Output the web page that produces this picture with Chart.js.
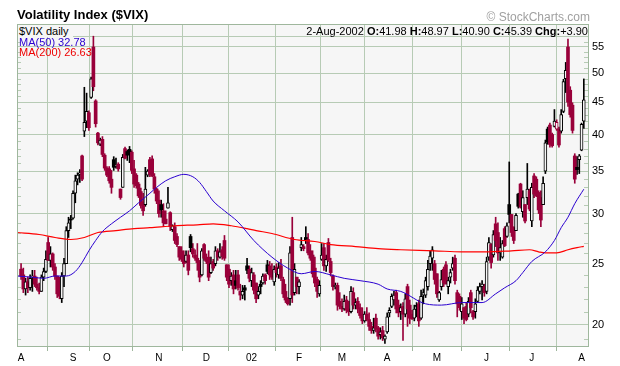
<!DOCTYPE html>
<html><head><meta charset="utf-8">
<script src="https://cdn.jsdelivr.net/npm/chart.js@4"></script>
<style>
html,body{margin:0;padding:0;background:#fff;}
#wrap{position:relative;width:620px;height:366px;overflow:hidden;font-family:"Liberation Sans",Arial,sans-serif;}
canvas{position:absolute;left:0;top:0;}
.t{position:absolute;white-space:nowrap;line-height:1;}
</style></head>
<body><div id="wrap">
<canvas id="c" width="620" height="366"></canvas>
<div class="t" style="left:17px;top:8px;font-size:13px;font-weight:bold;color:#000;">Volatility Index ($VIX)</div>
<div class="t" style="right:30px;top:11px;font-size:12px;color:#a0a0a0;">© StockCharts.com</div>
<div class="t" style="left:18px;top:25px;width:55px;height:12px;padding-left:1px;padding-top:1px;box-sizing:border-box;background:#f6f6f6;font-size:11px;color:#000;">$VIX daily</div>
<div class="t" style="left:19px;top:37px;font-size:11px;color:#2a00d0;">MA(50) 32.78</div>
<div class="t" style="left:19px;top:47px;font-size:11px;color:#ee0000;">MA(200) 26.63</div>
<div class="t" style="right:32px;top:26px;font-size:11px;color:#000;">2-Aug-2002 <b>O:</b>41.98 <b>H:</b>48.97 <b>L:</b>40.90 <b>C:</b>45.39 <b>Chg:</b>+3.90</div>
</div>
<script>
// ---- data (trading days Aug 1 2001 .. Aug 2 2002, index 0..249) ----
const PREV_CLOSE = 24.6;
const OPEN = [
24.5,24.0,22.8,23.4,22.9,23.8,23.9,23.2,22.9,22.6,23.8,24.3,27.0,25.3,25.9,24.7,23.9,22.4,22.0,23.9,25.0,28.2,29.4,
29.5,32.3,34.0,34.6,37.0,40.5,42.0,43.3,45.8,55.0,45.2,40.2,38.6,39.3,37.1,
35.4,35.3,34.0,36.5,35.6,35.9,32.8,33.0,38.0,37.6,37.9,37.5,35.3,34.5,33.4,32.5,31.3,31.0,34.5,36.5,36.6,34.3,32.8,
31.5,31.0,30.3,29.4,30.6,30.1,28.3,28.6,27.6,26.6,26.2,25.8,25.2,25.8,27.6,26.4,25.8,25.5,25.1,24.0,26.8,
25.5,25.6,24.2,25.2,25.0,26.2,25.6,26.3,27.2,24.9,24.5,23.5,24.0,23.5,24.0,22.6,22.3,22.9,24.8,24.5,
23.5,24.0,23.3,22.3,23.2,23.3,24.0,24.9,24.8,24.4,23.4,24.7,24.0,24.8,23.6,22.6,22.0,22.0,27.5,22.5,23.8,
23.0,26.5,26.6,27.5,27.3,26.2,25.8,24.6,23.6,22.4,25.4,26.5,24.8,27.0,25.2,23.9,23.0,23.1,21.8,
21.4,21.2,21.9,21.2,21.0,22.5,21.5,21.8,21.3,20.8,20.3,20.8,20.4,19.9,19.6,20.5,19.8,19.3,19.6,19.0,
19.5,20.9,21.4,21.9,22.5,21.5,21.0,21.4,20.8,23.0,21.5,20.8,20.5,21.4,21.6,20.5,22.3,22.3,23.0,25.0,25.5,25.0,
24.1,21.9,23.0,24.5,24.9,23.0,23.8,24.6,25.5,22.5,22.2,21.0,21.3,21.4,20.8,22.5,21.0,21.0,21.8,22.6,23.0,23.0,
22.6,25.6,26.8,25.8,28.9,28.0,26.0,25.6,28.4,27.6,31.0,29.9,28.5,28.2,32.2,33.4,30.2,31.0,31.8,32.6,
29.2,34.4,34.0,32.4,31.8,31.0,35.0,40.8,41.4,40.0,41.2,40.8,40.8,40.5,43.5,49.0,55.0,47.0,44.5,37.0,35.5,36.5,
37.8,41.98
];
const HIGH = [
25.0,24.6,23.7,23.8,24.0,24.4,24.4,23.8,23.3,24.0,24.6,26.2,27.5,26.6,26.0,25.0,23.9,23.8,24.2,25.5,28.6,29.6,29.8,
32.6,34.5,34.8,35.2,37.1,47.5,46.5,43.6,49.3,57.2,45.4,40.3,39.5,39.7,37.3,
35.6,35.6,35.1,36.9,36.7,36.1,32.8,37.2,38.2,37.8,38.3,37.7,36.4,34.7,33.6,32.9,32.3,35.5,35.2,36.8,37.0,34.7,32.9,
32.6,31.5,31.1,30.3,33.0,30.2,28.8,29.0,27.9,26.6,26.6,26.2,26.2,26.2,27.8,26.9,26.3,26.9,25.3,26.4,26.9,
25.9,26.2,25.6,25.4,26.6,26.4,26.9,26.6,27.7,24.9,24.9,24.2,24.4,24.4,24.4,23.2,23.1,23.1,25.5,24.8,
24.6,24.2,23.3,23.0,23.5,24.1,24.1,25.3,25.2,25.0,24.8,25.0,25.1,25.4,23.8,23.2,22.1,26.6,29.6,25.0,23.8,
23.6,27.5,26.8,28.6,27.9,26.8,26.2,25.6,23.8,23.5,26.9,26.9,25.8,27.4,25.5,24.0,23.3,23.3,22.5,
22.0,22.3,22.2,21.8,23.0,22.9,22.0,22.1,21.6,21.3,21.0,21.3,20.9,20.2,20.5,20.8,19.9,19.8,19.9,19.3,
20.9,21.3,22.4,22.6,22.7,21.9,21.6,21.7,22.4,23.2,21.9,21.1,21.5,21.7,21.9,22.7,22.8,23.8,25.3,26.2,26.6,25.3,
24.1,22.6,24.4,24.7,25.2,23.8,24.5,25.6,25.8,22.7,22.4,22.1,21.3,21.7,22.1,22.7,21.1,22.0,23.0,23.3,23.5,23.2,
25.6,27.5,26.9,28.2,29.6,29.0,27.5,27.2,28.6,29.0,36.2,29.9,28.6,30.0,32.3,33.5,32.6,31.0,36.0,32.8,
33.5,34.7,34.3,32.6,32.6,34.3,39.2,41.1,41.7,40.2,43.8,42.2,41.1,43.8,48.9,52.0,56.6,47.6,44.9,37.3,36.9,37.2,
41.7,48.97
];
const LOW = [
23.6,22.5,22.3,22.5,22.7,22.6,23.0,22.7,22.4,22.6,23.5,24.2,25.3,24.7,24.4,23.6,22.1,22.0,21.7,23.0,25.0,27.5,28.4,
29.4,31.2,33.3,33.6,33.8,39.7,41.0,40.6,45.6,46.9,41.1,38.5,38.4,36.9,35.1,
34.3,33.5,32.3,35.1,35.4,35.0,31.6,33.0,36.6,36.4,36.1,34.7,33.0,32.9,31.8,30.6,29.8,30.8,34.3,34.3,34.3,32.3,31.1,
29.6,29.6,28.6,28.9,30.6,28.2,28.1,26.9,26.6,25.3,25.2,24.7,25.1,24.0,26.1,25.6,25.3,24.4,23.4,23.9,25.3,
25.0,23.5,24.1,24.4,24.8,25.3,25.5,25.4,25.3,23.5,22.9,23.1,22.4,22.8,22.7,21.9,22.0,21.9,24.1,23.4,
23.0,22.4,21.7,22.0,22.4,23.2,23.2,24.1,23.6,23.6,23.1,23.8,23.7,23.5,22.1,21.7,21.5,21.5,21.7,22.3,22.4,
22.4,26.2,26.2,26.9,25.8,25.3,23.8,23.0,22.1,22.2,25.3,24.4,24.3,25.2,23.9,22.7,22.8,21.1,21.2,
21.0,21.1,20.9,20.7,20.9,21.2,21.2,20.9,20.5,20.1,20.2,20.3,19.6,19.4,19.4,19.5,19.0,19.0,18.9,18.7,
19.4,20.6,21.3,21.5,20.9,20.6,20.4,18.9,20.6,19.9,20.1,20.4,20.3,20.6,19.9,20.4,21.6,22.1,22.7,24.4,24.4,23.2,
22.1,21.8,22.7,23.0,23.3,22.4,23.3,24.4,23.2,20.6,21.1,20.4,20.1,20.3,20.6,20.9,20.4,20.5,21.7,22.4,21.9,22.2,
22.4,25.3,24.6,25.6,26.6,25.3,25.3,25.5,26.6,27.5,29.0,27.6,26.9,28.2,30.6,30.6,29.6,29.0,31.0,30.3,
28.6,31.8,31.9,30.0,28.6,31.0,34.7,38.6,38.2,38.2,41.1,40.6,38.2,40.2,43.3,46.6,44.3,42.6,40.2,33.5,34.6,34.7,
37.7,40.90
];
const CLOSE = [
23.9,22.8,23.4,22.9,23.7,23.9,23.2,22.9,22.6,23.8,24.3,25.4,25.3,25.9,24.7,23.9,22.4,22.2,23.9,25.0,28.2,29.0,29.3,
32.3,33.8,34.5,34.8,34.0,41.8,43.5,41.0,49.0,47.6,41.6,38.8,39.2,37.2,35.4,
34.5,33.8,33.0,35.5,35.8,35.3,31.8,36.8,36.7,37.1,37.5,35.1,33.4,33.2,32.0,30.9,30.3,32.8,35.0,34.6,34.4,32.8,31.4,
30.0,30.4,29.0,28.9,31.2,28.6,28.7,27.2,26.8,25.6,25.4,25.0,25.8,24.4,26.5,25.9,25.5,25.1,23.8,26.2,25.5,
25.2,23.8,25.0,24.6,26.2,25.6,26.1,25.7,25.5,23.8,23.2,23.9,22.8,23.1,22.9,22.3,22.6,22.7,24.4,23.7,
24.2,22.7,22.0,22.6,23.0,23.9,23.5,24.3,24.0,23.8,24.5,24.2,24.6,23.7,22.4,21.9,21.6,26.0,22.3,24.5,23.0,
23.4,26.8,26.4,27.2,26.0,25.5,24.1,23.3,22.6,23.1,25.8,24.8,25.4,25.3,24.2,23.0,23.1,21.5,21.4,
21.2,21.8,21.1,21.0,22.6,21.5,21.7,21.2,20.7,20.3,20.8,20.4,19.9,19.6,19.8,19.7,19.2,19.5,19.1,19.2,
20.6,21.1,22.2,22.3,21.2,20.9,21.3,20.8,22.0,21.2,20.5,20.45,21.2,21.4,20.3,22.2,22.5,23.5,24.5,25.7,26.3,23.6,
22.4,22.5,23.6,23.3,23.2,23.5,24.2,25.0,23.5,21.6,21.3,21.6,20.5,20.4,21.8,21.3,20.6,21.6,22.7,23.0,23.2,22.5,
25.2,27.0,25.1,27.8,27.2,26.0,26.5,26.9,26.7,28.7,29.9,28.0,27.2,29.8,30.8,30.7,31.8,29.2,32.8,30.5,
33.0,32.2,32.0,30.4,29.3,33.5,38.8,38.9,38.6,38.4,42.0,41.8,38.5,43.0,48.5,50.5,45.0,43.0,40.6,34.0,35.2,37.0,
41.49,45.39
];
// month starts (trading-day index) and their axis labels
const MONTH_IDX = [0,23,38,61,82,102,123,142,162,184,206,226,248];
const MONTH_LABELS = ['A','S','O','N','D','02','F','M','A','M','J','J','A'];
// price-axis labels
const Y_TICKS = [20,25,30,35,40,45,50,55];
// moving averages (day index, value)
const MA50_DAYS = [-1.8,5,10,15,20,24,27,30,33,36,40,44,48,52,57,60,64,68,72,76,79,82,85,90,96,103,111,118,124,130,137,143,150,158,162,168,179,186,195,204,210,214,219,222,226,232,236,239,242,245,249];
const MA50_VALS = [23.9,23.8,23.7,23.9,23.9,24.3,25.1,26.2,27.2,28.1,28.9,29.6,30.3,31.2,32.3,33.0,33.8,34.3,34.6,34.3,33.6,32.5,31.4,30.3,29.1,27.2,25.6,24.6,24.1,24.3,24.0,23.7,23.5,23.2,22.8,22.6,21.6,21.5,21.7,21.7,22.4,22.9,23.5,24.2,25.2,26.1,27.2,28.5,29.6,31.1,32.78];
const MA200_DAYS = [-1.8,8,15,22,28,34,42,50,57,68,78,85,93,100,104,111,121,130,137,148,158,168,183,195,205,217,225,229,232,237,242,246,249];
const MA200_VALS = [28.0,27.8,27.5,27.3,27.5,28.0,28.2,28.4,28.5,28.7,28.8,28.9,28.7,28.4,28.2,27.9,27.3,27.1,26.8,26.6,26.4,26.3,26.2,26.1,26.1,26.2,26.3,26.1,26.0,26.0,26.3,26.5,26.63];

// ---- styling ----
const PLOT_BG = '#f6f6f6';
const GRID = '#b7cbb5';
const FRAME = '#9fb79d';
const UP = '#000000';
const DOWN = '#99003a';
const FONT = '"Liberation Sans", Arial, sans-serif';
const HEADER_H = 12;

const colorOf = i => (CLOSE[i] >= (i === 0 ? PREV_CLOSE : CLOSE[i-1])) ? UP : DOWN;
const hollow = i => CLOSE[i] > OPEN[i];

const wickData = CLOSE.map((c,i) => ({x:i, y:[LOW[i], HIGH[i]]}));
const bodyData = CLOSE.map((c,i) => ({x:i, y:[OPEN[i], CLOSE[i]]}));

const deco = {
  id:'deco',
  beforeDraw(chart){
    const {ctx, chartArea:a} = chart;
    ctx.save();
    ctx.fillStyle = PLOT_BG;
    ctx.fillRect(a.left, a.top, a.right-a.left, a.bottom-a.top);
    ctx.restore();
  },
  beforeDatasetsDraw(chart){
    const {ctx, chartArea:a, scales:{y}} = chart;
    ctx.save();
    ctx.strokeStyle = GRID;
    ctx.lineWidth = 1;
    ctx.beginPath();
    // header separator
    const hy = Math.round(a.top) + HEADER_H + 0.5;
    ctx.moveTo(a.left, hy); ctx.lineTo(a.right, hy);
    // minor ticks at every unit, inside both edges
    for (let v = 19; v <= 57; v++) {
      if (Y_TICKS.includes(v)) continue;
      const py = Math.round(y.getPixelForValue(v)) + 0.5;
      if (py < a.top + HEADER_H + 2 || py > a.bottom) continue;
      ctx.moveTo(a.left, py); ctx.lineTo(a.left+4, py);
      ctx.moveTo(a.right-5, py); ctx.lineTo(a.right, py);
    }
    ctx.stroke();
    ctx.restore();
  },
  afterDraw(chart){
    const {ctx, chartArea:a} = chart;
    ctx.save();
    ctx.strokeStyle = FRAME;
    ctx.lineWidth = 1;
    ctx.strokeRect(Math.round(a.left)+0.5, Math.round(a.top)+0.5, Math.round(a.right-a.left)-1, Math.round(a.bottom-a.top)-1);
    ctx.restore();
  }
};

new Chart(document.getElementById('c'), {
  type:'bar',
  data:{
    datasets:[
      {type:'line', label:'MA(50)', data:MA50_DAYS.map((d,i)=>({x:d,y:MA50_VALS[i]})), borderColor:'#2a00d0', borderWidth:1, pointRadius:0, cubicInterpolationMode:'monotone', order:0},
      {type:'line', label:'MA(200)', data:MA200_DAYS.map((d,i)=>({x:d,y:MA200_VALS[i]})), borderColor:'#ff0000', borderWidth:1.2, pointRadius:0, cubicInterpolationMode:'monotone', order:1},
      {label:'body', data:bodyData, grouped:false, barThickness:3, minBarLength:1,
        backgroundColor: ctx => hollow(ctx.dataIndex) ? PLOT_BG : colorOf(ctx.dataIndex),
        borderColor: ctx => colorOf(ctx.dataIndex),
        borderWidth: ctx => hollow(ctx.dataIndex) ? 1 : 0,
        borderSkipped:false, order:2},
      {label:'wick', data:wickData, grouped:false, barThickness:1,
        backgroundColor: ctx => colorOf(ctx.dataIndex), borderWidth:0, order:3}
    ]
  },
  options:{
    responsive:false, animation:false, devicePixelRatio:1,
    layout:{padding:{left:17, top:24, right:0, bottom:0}},
    plugins:{legend:{display:false}, tooltip:{enabled:false}, title:{display:false}},
    scales:{
      x:{type:'linear', min:-1.8, max:251.3, offset:false,
        afterBuildTicks: s => { s.ticks = MONTH_IDX.map(v => ({value:v})); },
        afterFit: s => { s.height = 19; },
        ticks:{autoSkip:false, maxRotation:0, padding:1, color:'#000', font:{family:FONT, size:10},
          callback:(v) => MONTH_LABELS[MONTH_IDX.indexOf(v)]},
        grid:{color:GRID, tickColor:FRAME, tickLength:4, lineWidth:1},
        border:{display:false}
      },
      y:{type:'logarithmic', position:'right', min:18.46, max:59.8,
        afterBuildTicks: s => { s.ticks = Y_TICKS.map(v => ({value:v})); },
        afterFit: s => { s.width = 31; },
        ticks:{padding:3, color:'#000', font:{family:FONT, size:11}, callback:v => String(v)},
        grid:{color:GRID, drawTicks:false, lineWidth:1},
        border:{display:false}
      }
    }
  },
  plugins:[deco]
});
</script>
</body></html>
